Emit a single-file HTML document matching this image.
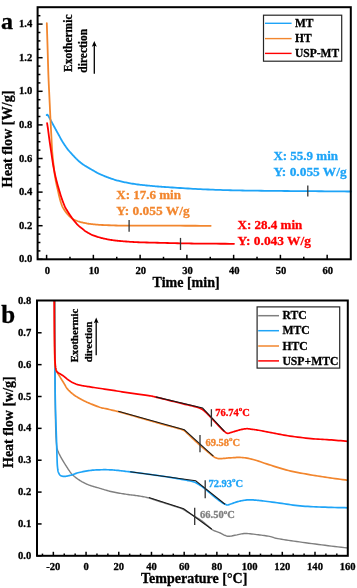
<!DOCTYPE html>
<html><head><meta charset="utf-8"><style>
html,body{margin:0;padding:0;background:#fff;width:357px;height:588px;overflow:hidden;}
svg{display:block;font-family:"Liberation Serif",serif;will-change:transform;}
</style></head><body>
<svg width="357" height="588" viewBox="0 0 357 588">
<path d="M46.70,115.10 L46.80,115.05 L46.89,114.95 L46.97,114.84 L47.06,114.74 L47.15,114.67 L47.27,114.65 L47.42,114.72 L47.60,114.90 L47.82,115.19 L48.08,115.57 L48.37,116.03 L48.67,116.55 L49.00,117.11 L49.33,117.70 L49.67,118.30 L50.00,118.90 L50.34,119.51 L50.69,120.15 L51.05,120.82 L51.41,121.51 L51.78,122.21 L52.16,122.91 L52.53,123.61 L52.90,124.30 L53.27,124.98 L53.64,125.67 L54.02,126.36 L54.39,127.05 L54.77,127.74 L55.15,128.43 L55.52,129.12 L55.90,129.80 L56.27,130.48 L56.65,131.15 L57.02,131.82 L57.39,132.49 L57.77,133.16 L58.14,133.83 L58.52,134.51 L58.90,135.20 L59.28,135.91 L59.67,136.63 L60.06,137.36 L60.45,138.10 L60.84,138.83 L61.23,139.55 L61.62,140.24 L62.00,140.90 L62.38,141.53 L62.76,142.14 L63.13,142.72 L63.51,143.29 L63.88,143.85 L64.25,144.40 L64.63,144.95 L65.00,145.50 L65.36,146.03 L65.70,146.55 L66.04,147.04 L66.38,147.54 L66.73,148.04 L67.11,148.56 L67.53,149.11 L68.00,149.70 L68.53,150.34 L69.11,151.01 L69.73,151.72 L70.38,152.44 L71.04,153.18 L71.70,153.90 L72.36,154.61 L73.00,155.30 L73.62,155.97 L74.25,156.64 L74.88,157.30 L75.50,157.95 L76.12,158.59 L76.75,159.21 L77.38,159.82 L78.00,160.40 L78.62,160.96 L79.25,161.50 L79.88,162.02 L80.50,162.53 L81.12,163.01 L81.75,163.49 L82.38,163.95 L83.00,164.40 L83.62,164.83 L84.25,165.24 L84.88,165.64 L85.50,166.02 L86.12,166.39 L86.75,166.76 L87.38,167.13 L88.00,167.50 L88.62,167.87 L89.25,168.24 L89.88,168.61 L90.50,168.97 L91.12,169.33 L91.75,169.69 L92.38,170.04 L93.00,170.40 L93.61,170.75 L94.20,171.10 L94.79,171.44 L95.38,171.79 L95.98,172.13 L96.61,172.48 L97.28,172.84 L98.00,173.20 L98.77,173.57 L99.59,173.96 L100.43,174.35 L101.31,174.74 L102.21,175.14 L103.13,175.53 L104.06,175.92 L105.00,176.30 L105.96,176.68 L106.95,177.06 L107.97,177.44 L109.00,177.82 L110.03,178.19 L111.05,178.54 L112.04,178.88 L113.00,179.20 L113.92,179.50 L114.80,179.77 L115.65,180.03 L116.50,180.27 L117.35,180.51 L118.20,180.74 L119.08,180.97 L120.00,181.20 L120.94,181.43 L121.88,181.65 L122.84,181.86 L123.81,182.07 L124.81,182.28 L125.84,182.49 L126.90,182.69 L128.00,182.90 L129.15,183.11 L130.36,183.32 L131.60,183.53 L132.88,183.74 L134.16,183.94 L135.45,184.14 L136.74,184.32 L138.00,184.50 L139.25,184.66 L140.50,184.81 L141.75,184.96 L143.00,185.09 L144.25,185.22 L145.50,185.35 L146.75,185.48 L148.00,185.60 L149.25,185.72 L150.50,185.84 L151.75,185.96 L153.00,186.07 L154.25,186.19 L155.50,186.29 L156.75,186.40 L158.00,186.50 L159.18,186.59 L160.27,186.67 L161.31,186.75 L162.38,186.83 L163.52,186.90 L164.80,186.99 L166.27,187.09 L168.00,187.20 L170.02,187.34 L172.30,187.49 L174.77,187.66 L177.38,187.83 L180.06,188.01 L182.77,188.18 L185.43,188.35 L188.00,188.50 L190.50,188.64 L193.00,188.78 L195.50,188.91 L198.00,189.04 L200.50,189.16 L203.00,189.28 L205.50,189.39 L208.00,189.50 L210.50,189.60 L213.00,189.70 L215.50,189.80 L218.00,189.89 L220.50,189.97 L223.00,190.05 L225.50,190.13 L228.00,190.20 L230.45,190.27 L232.84,190.32 L235.19,190.38 L237.56,190.42 L239.99,190.47 L242.51,190.51 L245.17,190.56 L248.00,190.60 L251.05,190.64 L254.30,190.68 L257.70,190.72 L261.19,190.76 L264.71,190.80 L268.23,190.83 L271.67,190.87 L275.00,190.90 L278.22,190.93 L281.39,190.96 L284.52,190.98 L287.62,191.01 L290.71,191.03 L293.80,191.05 L296.89,191.08 L300.00,191.10 L303.12,191.12 L306.23,191.15 L309.34,191.17 L312.45,191.20 L315.57,191.22 L318.69,191.25 L321.84,191.27 L325.00,191.30 L328.19,191.33 L331.39,191.35 L334.62,191.38 L337.85,191.40 L341.09,191.43 L344.33,191.45 L347.57,191.48 L350.80,191.50" fill="none" stroke="#1ea4f7" stroke-width="1.8" stroke-linejoin="round" stroke-linecap="round"/>
<path d="M46.80,23.20 L46.89,25.87 L46.97,28.46 L47.05,31.01 L47.14,33.59 L47.22,36.22 L47.31,38.97 L47.40,41.88 L47.50,45.00 L47.60,48.41 L47.71,52.11 L47.82,56.00 L47.93,59.99 L48.05,63.98 L48.16,67.87 L48.28,71.58 L48.40,75.00 L48.52,78.13 L48.64,81.04 L48.76,83.79 L48.89,86.44 L49.01,89.03 L49.14,91.62 L49.27,94.26 L49.40,97.00 L49.53,99.88 L49.68,102.87 L49.82,105.90 L49.96,108.94 L50.11,111.92 L50.24,114.79 L50.38,117.50 L50.50,120.00 L50.61,122.26 L50.72,124.31 L50.82,126.21 L50.92,128.00 L51.01,129.73 L51.11,131.44 L51.20,133.18 L51.30,135.00 L51.40,136.91 L51.50,138.87 L51.60,140.84 L51.69,142.81 L51.79,144.74 L51.89,146.60 L52.00,148.36 L52.10,150.00 L52.21,151.50 L52.32,152.89 L52.43,154.18 L52.54,155.41 L52.65,156.58 L52.77,157.72 L52.88,158.86 L53.00,160.00 L53.12,161.15 L53.25,162.28 L53.38,163.39 L53.51,164.47 L53.64,165.52 L53.76,166.55 L53.88,167.54 L54.00,168.50 L54.11,169.40 L54.20,170.23 L54.29,171.02 L54.38,171.78 L54.46,172.54 L54.56,173.32 L54.67,174.13 L54.80,175.00 L54.94,175.94 L55.10,176.92 L55.27,177.93 L55.45,178.97 L55.63,180.01 L55.82,181.04 L56.01,182.04 L56.20,183.00 L56.39,183.92 L56.58,184.81 L56.78,185.68 L56.98,186.53 L57.18,187.38 L57.39,188.24 L57.59,189.11 L57.80,190.00 L58.01,190.92 L58.21,191.86 L58.42,192.82 L58.63,193.78 L58.84,194.74 L59.06,195.68 L59.28,196.61 L59.50,197.50 L59.73,198.37 L59.96,199.24 L60.19,200.10 L60.43,200.94 L60.67,201.76 L60.91,202.55 L61.16,203.29 L61.40,204.00 L61.64,204.65 L61.86,205.24 L62.09,205.79 L62.31,206.31 L62.55,206.81 L62.81,207.32 L63.09,207.85 L63.40,208.40 L63.74,208.98 L64.11,209.58 L64.50,210.19 L64.91,210.81 L65.34,211.42 L65.78,212.03 L66.24,212.62 L66.70,213.20 L67.19,213.78 L67.71,214.36 L68.24,214.94 L68.79,215.51 L69.34,216.06 L69.89,216.58 L70.41,217.07 L70.90,217.50 L71.35,217.88 L71.77,218.20 L72.16,218.49 L72.55,218.74 L72.94,218.98 L73.36,219.21 L73.80,219.45 L74.30,219.70 L74.84,219.96 L75.42,220.23 L76.02,220.49 L76.64,220.75 L77.29,221.00 L77.95,221.25 L78.62,221.48 L79.30,221.70 L79.99,221.91 L80.71,222.10 L81.44,222.29 L82.19,222.46 L82.94,222.63 L83.70,222.79 L84.45,222.95 L85.20,223.10 L85.91,223.24 L86.57,223.38 L87.21,223.51 L87.87,223.63 L88.56,223.75 L89.33,223.87 L90.20,223.98 L91.20,224.10 L92.31,224.22 L93.48,224.34 L94.74,224.46 L96.08,224.57 L97.50,224.69 L99.03,224.80 L100.66,224.90 L102.40,225.00 L104.35,225.09 L106.55,225.19 L108.91,225.27 L111.34,225.36 L113.75,225.43 L116.05,225.50 L118.17,225.56 L120.00,225.60 L121.32,225.63 L122.10,225.64 L122.60,225.64 L123.04,225.63 L123.66,225.62 L124.70,225.61 L126.40,225.60 L129.00,225.60 L132.60,225.61 L137.01,225.62 L142.04,225.63 L147.52,225.64 L153.24,225.66 L159.02,225.67 L164.67,225.69 L170.00,225.70 L175.10,225.71 L180.20,225.72 L185.28,225.74 L190.37,225.75 L195.45,225.76 L200.53,225.78 L205.61,225.79 L210.70,225.80" fill="none" stroke="#f2862e" stroke-width="1.8" stroke-linejoin="round" stroke-linecap="round"/>
<path d="M47.10,123.10 L47.21,123.83 L47.33,124.57 L47.44,125.29 L47.56,126.03 L47.67,126.76 L47.78,127.50 L47.89,128.24 L48.00,129.00 L48.10,129.76 L48.20,130.53 L48.30,131.29 L48.39,132.07 L48.49,132.85 L48.59,133.65 L48.69,134.47 L48.80,135.30 L48.92,136.16 L49.04,137.05 L49.16,137.95 L49.29,138.87 L49.42,139.79 L49.55,140.71 L49.67,141.61 L49.80,142.50 L49.92,143.37 L50.05,144.23 L50.17,145.08 L50.30,145.93 L50.42,146.77 L50.55,147.62 L50.67,148.46 L50.80,149.30 L50.92,150.14 L51.05,150.98 L51.17,151.82 L51.30,152.65 L51.42,153.48 L51.55,154.32 L51.67,155.16 L51.80,156.00 L51.92,156.85 L52.05,157.69 L52.17,158.54 L52.29,159.39 L52.41,160.25 L52.54,161.10 L52.67,161.95 L52.80,162.80 L52.94,163.65 L53.08,164.51 L53.23,165.38 L53.38,166.24 L53.53,167.09 L53.69,167.94 L53.84,168.78 L54.00,169.60 L54.15,170.40 L54.31,171.17 L54.46,171.92 L54.61,172.67 L54.77,173.43 L54.94,174.19 L55.11,174.98 L55.30,175.80 L55.50,176.65 L55.71,177.53 L55.93,178.44 L56.16,179.35 L56.39,180.27 L56.62,181.19 L56.86,182.10 L57.10,183.00 L57.34,183.88 L57.58,184.75 L57.82,185.62 L58.07,186.48 L58.32,187.35 L58.57,188.22 L58.83,189.10 L59.10,190.00 L59.37,190.92 L59.65,191.85 L59.93,192.80 L60.21,193.75 L60.50,194.70 L60.80,195.65 L61.10,196.58 L61.40,197.50 L61.72,198.42 L62.05,199.35 L62.38,200.29 L62.72,201.21 L63.06,202.11 L63.39,202.97 L63.71,203.77 L64.00,204.50 L64.26,205.13 L64.47,205.67 L64.66,206.14 L64.85,206.58 L65.05,207.01 L65.28,207.47 L65.56,207.99 L65.90,208.60 L66.31,209.31 L66.79,210.09 L67.31,210.93 L67.86,211.79 L68.42,212.67 L69.00,213.55 L69.56,214.40 L70.10,215.20 L70.62,215.97 L71.15,216.73 L71.67,217.49 L72.20,218.22 L72.72,218.95 L73.25,219.65 L73.77,220.34 L74.30,221.00 L74.83,221.64 L75.35,222.26 L75.88,222.87 L76.40,223.45 L76.92,224.02 L77.45,224.56 L77.97,225.09 L78.50,225.60 L79.03,226.09 L79.58,226.56 L80.13,227.01 L80.68,227.44 L81.22,227.86 L81.74,228.26 L82.24,228.64 L82.70,229.00 L83.11,229.33 L83.45,229.63 L83.76,229.90 L84.06,230.16 L84.37,230.42 L84.72,230.69 L85.12,230.98 L85.60,231.30 L86.17,231.66 L86.81,232.06 L87.50,232.48 L88.23,232.91 L88.98,233.34 L89.74,233.76 L90.48,234.15 L91.20,234.50 L91.90,234.82 L92.60,235.11 L93.30,235.39 L94.00,235.65 L94.70,235.90 L95.40,236.14 L96.10,236.37 L96.80,236.60 L97.50,236.83 L98.20,237.04 L98.90,237.25 L99.60,237.46 L100.30,237.65 L101.00,237.84 L101.70,238.02 L102.40,238.20 L103.10,238.37 L103.80,238.54 L104.50,238.69 L105.20,238.84 L105.90,238.99 L106.60,239.13 L107.30,239.27 L108.00,239.40 L108.69,239.53 L109.38,239.65 L110.06,239.77 L110.75,239.88 L111.44,239.99 L112.14,240.10 L112.86,240.20 L113.60,240.30 L114.34,240.40 L115.06,240.49 L115.78,240.57 L116.52,240.66 L117.30,240.74 L118.13,240.82 L119.02,240.91 L120.00,241.00 L121.08,241.10 L122.25,241.20 L123.49,241.31 L124.78,241.41 L126.09,241.52 L127.42,241.62 L128.73,241.71 L130.00,241.80 L131.18,241.88 L132.27,241.95 L133.31,242.01 L134.38,242.07 L135.52,242.13 L136.80,242.18 L138.27,242.24 L140.00,242.30 L142.02,242.36 L144.30,242.43 L146.77,242.49 L149.38,242.55 L152.06,242.61 L154.77,242.68 L157.43,242.74 L160.00,242.80 L162.50,242.86 L165.00,242.93 L167.50,243.00 L170.00,243.06 L172.50,243.13 L175.00,243.19 L177.50,243.25 L180.00,243.30 L182.40,243.35 L184.67,243.39 L186.88,243.43 L189.12,243.47 L191.47,243.50 L194.02,243.54 L196.83,243.57 L200.00,243.60 L203.58,243.63 L207.52,243.66 L211.72,243.68 L216.12,243.71 L220.63,243.73 L225.17,243.75 L229.65,243.78 L234.00,243.80" fill="none" stroke="#ff0000" stroke-width="1.8" stroke-linejoin="round" stroke-linecap="round"/>
<line x1="307.8" y1="185.6" x2="307.8" y2="196.5" stroke="#333333" stroke-width="1.3"/>
<line x1="129.1" y1="220.0" x2="129.1" y2="231.8" stroke="#333333" stroke-width="1.3"/>
<line x1="180.5" y1="237.9" x2="180.5" y2="250.0" stroke="#333333" stroke-width="1.3"/>
<rect x="37.6" y="7.2" width="313.2" height="252.10000000000002" fill="none" stroke="#000" stroke-width="2.0"/>
<line x1="37.6" y1="259.30" x2="42.6" y2="259.30" stroke="#000" stroke-width="1.5"/>
<text stroke="#000" stroke-width="0.3" x="32.3" y="262.30" text-anchor="end" font-size="10.6" font-family="Liberation Serif" font-weight="bold">0.0</text>
<line x1="37.6" y1="250.90" x2="40.4" y2="250.90" stroke="#000" stroke-width="1.5"/>
<line x1="37.6" y1="242.50" x2="40.4" y2="242.50" stroke="#000" stroke-width="1.5"/>
<line x1="37.6" y1="234.10" x2="40.4" y2="234.10" stroke="#000" stroke-width="1.5"/>
<line x1="37.6" y1="225.70" x2="42.6" y2="225.70" stroke="#000" stroke-width="1.5"/>
<text stroke="#000" stroke-width="0.3" x="32.3" y="228.70" text-anchor="end" font-size="10.6" font-family="Liberation Serif" font-weight="bold">0.2</text>
<line x1="37.6" y1="217.30" x2="40.4" y2="217.30" stroke="#000" stroke-width="1.5"/>
<line x1="37.6" y1="208.90" x2="40.4" y2="208.90" stroke="#000" stroke-width="1.5"/>
<line x1="37.6" y1="200.50" x2="40.4" y2="200.50" stroke="#000" stroke-width="1.5"/>
<line x1="37.6" y1="192.10" x2="42.6" y2="192.10" stroke="#000" stroke-width="1.5"/>
<text stroke="#000" stroke-width="0.3" x="32.3" y="195.10" text-anchor="end" font-size="10.6" font-family="Liberation Serif" font-weight="bold">0.4</text>
<line x1="37.6" y1="183.70" x2="40.4" y2="183.70" stroke="#000" stroke-width="1.5"/>
<line x1="37.6" y1="175.30" x2="40.4" y2="175.30" stroke="#000" stroke-width="1.5"/>
<line x1="37.6" y1="166.90" x2="40.4" y2="166.90" stroke="#000" stroke-width="1.5"/>
<line x1="37.6" y1="158.50" x2="42.6" y2="158.50" stroke="#000" stroke-width="1.5"/>
<text stroke="#000" stroke-width="0.3" x="32.3" y="161.50" text-anchor="end" font-size="10.6" font-family="Liberation Serif" font-weight="bold">0.6</text>
<line x1="37.6" y1="150.10" x2="40.4" y2="150.10" stroke="#000" stroke-width="1.5"/>
<line x1="37.6" y1="141.70" x2="40.4" y2="141.70" stroke="#000" stroke-width="1.5"/>
<line x1="37.6" y1="133.30" x2="40.4" y2="133.30" stroke="#000" stroke-width="1.5"/>
<line x1="37.6" y1="124.90" x2="42.6" y2="124.90" stroke="#000" stroke-width="1.5"/>
<text stroke="#000" stroke-width="0.3" x="32.3" y="127.90" text-anchor="end" font-size="10.6" font-family="Liberation Serif" font-weight="bold">0.8</text>
<line x1="37.6" y1="116.50" x2="40.4" y2="116.50" stroke="#000" stroke-width="1.5"/>
<line x1="37.6" y1="108.10" x2="40.4" y2="108.10" stroke="#000" stroke-width="1.5"/>
<line x1="37.6" y1="99.70" x2="40.4" y2="99.70" stroke="#000" stroke-width="1.5"/>
<line x1="37.6" y1="91.30" x2="42.6" y2="91.30" stroke="#000" stroke-width="1.5"/>
<text stroke="#000" stroke-width="0.3" x="32.3" y="94.30" text-anchor="end" font-size="10.6" font-family="Liberation Serif" font-weight="bold">1.0</text>
<line x1="37.6" y1="82.90" x2="40.4" y2="82.90" stroke="#000" stroke-width="1.5"/>
<line x1="37.6" y1="74.50" x2="40.4" y2="74.50" stroke="#000" stroke-width="1.5"/>
<line x1="37.6" y1="66.10" x2="40.4" y2="66.10" stroke="#000" stroke-width="1.5"/>
<line x1="37.6" y1="57.70" x2="42.6" y2="57.70" stroke="#000" stroke-width="1.5"/>
<text stroke="#000" stroke-width="0.3" x="32.3" y="60.70" text-anchor="end" font-size="10.6" font-family="Liberation Serif" font-weight="bold">1.2</text>
<line x1="37.6" y1="49.30" x2="40.4" y2="49.30" stroke="#000" stroke-width="1.5"/>
<line x1="37.6" y1="40.90" x2="40.4" y2="40.90" stroke="#000" stroke-width="1.5"/>
<line x1="37.6" y1="32.50" x2="40.4" y2="32.50" stroke="#000" stroke-width="1.5"/>
<line x1="37.6" y1="24.10" x2="42.6" y2="24.10" stroke="#000" stroke-width="1.5"/>
<text stroke="#000" stroke-width="0.3" x="32.3" y="27.10" text-anchor="end" font-size="10.6" font-family="Liberation Serif" font-weight="bold">1.4</text>
<line x1="37.6" y1="15.70" x2="40.4" y2="15.70" stroke="#000" stroke-width="1.5"/>
<line x1="46.60" y1="259.3" x2="46.60" y2="254.8" stroke="#000" stroke-width="1.5"/>
<text stroke="#000" stroke-width="0.3" x="47.30" y="273.6" text-anchor="middle" font-size="10.6" font-family="Liberation Serif" font-weight="bold">0</text>
<line x1="69.98" y1="259.3" x2="69.98" y2="256.8" stroke="#000" stroke-width="1.5"/>
<line x1="93.36" y1="259.3" x2="93.36" y2="254.8" stroke="#000" stroke-width="1.5"/>
<text stroke="#000" stroke-width="0.3" x="94.06" y="273.6" text-anchor="middle" font-size="10.6" font-family="Liberation Serif" font-weight="bold">10</text>
<line x1="116.74" y1="259.3" x2="116.74" y2="256.8" stroke="#000" stroke-width="1.5"/>
<line x1="140.12" y1="259.3" x2="140.12" y2="254.8" stroke="#000" stroke-width="1.5"/>
<text stroke="#000" stroke-width="0.3" x="140.82" y="273.6" text-anchor="middle" font-size="10.6" font-family="Liberation Serif" font-weight="bold">20</text>
<line x1="163.50" y1="259.3" x2="163.50" y2="256.8" stroke="#000" stroke-width="1.5"/>
<line x1="186.88" y1="259.3" x2="186.88" y2="254.8" stroke="#000" stroke-width="1.5"/>
<text stroke="#000" stroke-width="0.3" x="187.58" y="273.6" text-anchor="middle" font-size="10.6" font-family="Liberation Serif" font-weight="bold">30</text>
<line x1="210.26" y1="259.3" x2="210.26" y2="256.8" stroke="#000" stroke-width="1.5"/>
<line x1="233.64" y1="259.3" x2="233.64" y2="254.8" stroke="#000" stroke-width="1.5"/>
<text stroke="#000" stroke-width="0.3" x="234.34" y="273.6" text-anchor="middle" font-size="10.6" font-family="Liberation Serif" font-weight="bold">40</text>
<line x1="257.02" y1="259.3" x2="257.02" y2="256.8" stroke="#000" stroke-width="1.5"/>
<line x1="280.40" y1="259.3" x2="280.40" y2="254.8" stroke="#000" stroke-width="1.5"/>
<text stroke="#000" stroke-width="0.3" x="281.10" y="273.6" text-anchor="middle" font-size="10.6" font-family="Liberation Serif" font-weight="bold">50</text>
<line x1="303.78" y1="259.3" x2="303.78" y2="256.8" stroke="#000" stroke-width="1.5"/>
<line x1="327.16" y1="259.3" x2="327.16" y2="254.8" stroke="#000" stroke-width="1.5"/>
<text stroke="#000" stroke-width="0.3" x="327.86" y="273.6" text-anchor="middle" font-size="10.6" font-family="Liberation Serif" font-weight="bold">60</text>
<text stroke="#000" stroke-width="0.3" x="152.6" y="286.8" font-size="14" font-family="Liberation Serif" font-weight="bold">Time [min]</text>
<text stroke="#000" stroke-width="0.3" transform="translate(12.4,187.4) rotate(-90)" x="0" y="0" font-size="14.2" font-family="Liberation Serif" font-weight="bold">Heat flow [W/g]</text>
<text stroke="#000" stroke-width="0.3" x="1.1" y="29.3" font-size="24" font-family="Liberation Serif" font-weight="bold">a</text>
<text stroke="#000" stroke-width="0.3" transform="translate(71.8,72) rotate(-90)" font-size="11.5" font-family="Liberation Serif" font-weight="bold">Exothermic</text>
<text stroke="#000" stroke-width="0.3" transform="translate(86.5,72.7) rotate(-90)" font-size="11.5" font-family="Liberation Serif" font-weight="bold">direction</text>
<line x1="94.3" y1="73.7" x2="94.3" y2="45" stroke="#000" stroke-width="1.3"/>
<path d="M94.3,41 L96.8,46.8 L94.3,45.6 L91.8,46.8 Z" fill="#000"/>
<rect x="263.5" y="15.2" width="78.2" height="46" fill="#fff" stroke="#262626" stroke-width="1.2"/>
<line x1="265" y1="23.3" x2="291.6" y2="23.3" stroke="#1ea4f7" stroke-width="1.4"/>
<text stroke="#000" stroke-width="0.3" x="295.0" y="27.10" font-size="11.5" font-family="Liberation Serif" font-weight="bold">MT</text>
<line x1="265" y1="38.6" x2="291.6" y2="38.6" stroke="#f2862e" stroke-width="1.4"/>
<text stroke="#000" stroke-width="0.3" x="295.0" y="42.40" font-size="11.5" font-family="Liberation Serif" font-weight="bold">HT</text>
<line x1="265" y1="53.4" x2="291.6" y2="53.4" stroke="#ff0000" stroke-width="1.4"/>
<text stroke="#000" stroke-width="0.3" x="295.0" y="57.20" font-size="11.5" font-family="Liberation Serif" font-weight="bold">USP-MT</text>
<text stroke="#1ea4f7" stroke-width="0.3" x="273.4" y="160.2" font-size="13" fill="#1ea4f7" font-family="Liberation Serif" font-weight="bold">X: 55.9 min</text>
<text stroke="#1ea4f7" stroke-width="0.3" x="273.4" y="175.7" font-size="13.4" fill="#1ea4f7" font-family="Liberation Serif" font-weight="bold">Y: 0.055 W/g</text>
<text stroke="#f2862e" stroke-width="0.3" x="116.3" y="199.4" font-size="13" fill="#f2862e" font-family="Liberation Serif" font-weight="bold">X: 17.6 min</text>
<text stroke="#f2862e" stroke-width="0.3" x="116.3" y="215.2" font-size="13.4" fill="#f2862e" font-family="Liberation Serif" font-weight="bold">Y: 0.055 W/g</text>
<text stroke="#ff0000" stroke-width="0.3" x="237.6" y="228.9" font-size="13" fill="#ff0000" font-family="Liberation Serif" font-weight="bold">X: 28.4 min</text>
<text stroke="#ff0000" stroke-width="0.3" x="237.6" y="244.7" font-size="13.4" fill="#ff0000" font-family="Liberation Serif" font-weight="bold">Y: 0.043 W/g</text>
<defs><clipPath id="cb"><rect x="37" y="300.9" width="310.8" height="254.9"/></clipPath></defs>
<g clip-path="url(#cb)">
<path d="M54.90,300.00 L54.92,310.27 L54.95,320.94 L54.97,331.76 L54.99,342.50 L55.01,352.93 L55.04,362.81 L55.07,371.91 L55.10,380.00 L55.14,387.05 L55.18,393.28 L55.22,398.81 L55.27,403.75 L55.32,408.22 L55.37,412.34 L55.43,416.23 L55.50,420.00 L55.57,423.53 L55.64,426.66 L55.72,429.45 L55.81,431.94 L55.90,434.18 L55.99,436.24 L56.09,438.16 L56.20,440.00 L56.31,441.67 L56.41,443.08 L56.51,444.28 L56.62,445.33 L56.75,446.28 L56.90,447.17 L57.08,448.06 L57.30,449.00 L57.56,449.94 L57.84,450.81 L58.15,451.63 L58.49,452.42 L58.85,453.21 L59.24,454.00 L59.66,454.83 L60.10,455.70 L60.58,456.63 L61.11,457.60 L61.67,458.59 L62.25,459.59 L62.85,460.60 L63.44,461.59 L64.03,462.57 L64.60,463.50 L65.16,464.41 L65.73,465.33 L66.30,466.23 L66.87,467.11 L67.43,467.97 L67.97,468.79 L68.50,469.57 L69.00,470.30 L69.46,470.96 L69.87,471.57 L70.25,472.12 L70.63,472.64 L71.01,473.15 L71.42,473.65 L71.88,474.16 L72.40,474.70 L72.99,475.27 L73.65,475.84 L74.34,476.43 L75.06,477.01 L75.80,477.59 L76.55,478.15 L77.28,478.69 L78.00,479.20 L78.69,479.68 L79.38,480.14 L80.06,480.58 L80.75,481.01 L81.44,481.42 L82.14,481.82 L82.86,482.21 L83.60,482.60 L84.34,482.98 L85.06,483.34 L85.79,483.69 L86.54,484.03 L87.32,484.37 L88.14,484.71 L89.03,485.05 L90.00,485.40 L91.06,485.76 L92.21,486.12 L93.43,486.48 L94.69,486.84 L95.98,487.21 L97.27,487.57 L98.55,487.94 L99.80,488.30 L101.02,488.67 L102.25,489.05 L103.47,489.43 L104.70,489.81 L105.92,490.18 L107.15,490.54 L108.38,490.88 L109.60,491.20 L110.82,491.50 L112.05,491.78 L113.27,492.04 L114.50,492.29 L115.72,492.53 L116.95,492.76 L118.17,492.98 L119.40,493.20 L120.62,493.41 L121.85,493.61 L123.08,493.81 L124.30,493.99 L125.53,494.17 L126.75,494.35 L127.98,494.53 L129.20,494.70 L130.43,494.87 L131.66,495.03 L132.89,495.18 L134.12,495.32 L135.35,495.48 L136.58,495.64 L137.79,495.81 L139.00,496.00 L140.14,496.18 L141.20,496.35 L142.23,496.51 L143.26,496.69 L144.35,496.90 L145.54,497.16 L146.87,497.49 L148.40,497.90 L150.18,498.42 L152.20,499.04 L154.38,499.74 L156.65,500.49 L158.94,501.25 L161.18,501.99 L163.29,502.68 L165.20,503.30 L166.95,503.85 L168.64,504.38 L170.25,504.87 L171.77,505.34 L173.22,505.79 L174.57,506.21 L175.84,506.62 L177.00,507.00 L178.03,507.34 L178.91,507.64 L179.67,507.90 L180.36,508.15 L181.00,508.40 L181.64,508.66 L182.29,508.96 L183.00,509.30 L183.72,509.68 L184.38,510.06 L185.03,510.46 L185.69,510.88 L186.38,511.34 L187.15,511.84 L188.01,512.39 L189.00,513.00 L190.17,513.70 L191.52,514.49 L192.98,515.35 L194.50,516.24 L196.02,517.14 L197.48,518.02 L198.83,518.85 L200.00,519.60 L200.99,520.28 L201.86,520.90 L202.62,521.49 L203.33,522.05 L203.98,522.60 L204.63,523.15 L205.29,523.71 L206.00,524.30 L206.75,524.93 L207.52,525.61 L208.30,526.30 L209.07,526.99 L209.82,527.65 L210.54,528.27 L211.20,528.83 L211.80,529.30 L212.31,529.67 L212.74,529.95 L213.10,530.17 L213.44,530.34 L213.77,530.49 L214.12,530.63 L214.52,530.80 L215.00,531.00 L215.54,531.23 L216.11,531.45 L216.70,531.68 L217.33,531.91 L217.99,532.15 L218.69,532.41 L219.43,532.69 L220.20,533.00 L221.02,533.37 L221.90,533.82 L222.81,534.30 L223.76,534.79 L224.74,535.26 L225.72,535.67 L226.71,536.00 L227.70,536.20 L228.68,536.27 L229.67,536.24 L230.67,536.12 L231.67,535.95 L232.70,535.74 L233.74,535.51 L234.81,535.29 L235.90,535.10 L237.00,534.90 L238.10,534.67 L239.22,534.41 L240.36,534.15 L241.53,533.91 L242.76,533.71 L244.04,533.56 L245.40,533.50 L246.86,533.52 L248.43,533.61 L250.06,533.76 L251.74,533.95 L253.44,534.16 L255.11,534.39 L256.75,534.60 L258.30,534.80 L259.80,534.98 L261.29,535.16 L262.76,535.35 L264.19,535.54 L265.59,535.74 L266.95,535.95 L268.26,536.17 L269.50,536.40 L270.60,536.64 L271.51,536.89 L272.32,537.15 L273.12,537.42 L273.97,537.70 L274.97,537.99 L276.18,538.29 L277.70,538.60 L279.51,538.93 L281.52,539.26 L283.73,539.61 L286.09,539.97 L288.58,540.35 L291.18,540.72 L293.86,541.11 L296.60,541.50 L299.44,541.90 L302.44,542.32 L305.55,542.75 L308.76,543.19 L312.01,543.62 L315.30,544.06 L318.57,544.49 L321.80,544.90 L325.01,545.30 L328.24,545.70 L331.49,546.08 L334.75,546.47 L338.01,546.85 L341.28,547.23 L344.54,547.61 L347.80,548.00" fill="none" stroke="#7f7f7f" stroke-width="1.4" stroke-linejoin="round" stroke-linecap="round"/>
<path d="M54.60,300.00 L54.64,307.64 L54.67,315.47 L54.71,323.38 L54.74,331.25 L54.78,338.96 L54.82,346.41 L54.86,353.46 L54.90,360.00 L54.94,365.96 L54.97,371.41 L55.01,376.46 L55.04,381.25 L55.09,385.88 L55.14,390.47 L55.21,395.14 L55.30,400.00 L55.42,405.14 L55.56,410.47 L55.72,415.88 L55.89,421.25 L56.06,426.46 L56.22,431.41 L56.37,435.96 L56.50,440.00 L56.61,443.55 L56.70,446.71 L56.78,449.54 L56.85,452.06 L56.92,454.33 L56.98,456.38 L57.04,458.26 L57.10,460.00 L57.16,461.51 L57.20,462.71 L57.25,463.67 L57.29,464.44 L57.33,465.09 L57.38,465.70 L57.43,466.31 L57.50,467.00 L57.57,467.73 L57.65,468.44 L57.73,469.10 L57.81,469.74 L57.91,470.35 L58.02,470.93 L58.15,471.48 L58.30,472.00 L58.48,472.49 L58.68,472.96 L58.90,473.39 L59.13,473.80 L59.37,474.17 L59.62,474.52 L59.86,474.83 L60.10,475.10 L60.33,475.33 L60.55,475.51 L60.77,475.66 L61.00,475.77 L61.23,475.87 L61.47,475.95 L61.73,476.02 L62.00,476.10 L62.29,476.18 L62.58,476.24 L62.89,476.30 L63.21,476.34 L63.54,476.38 L63.88,476.40 L64.23,476.41 L64.60,476.40 L64.98,476.38 L65.37,476.35 L65.77,476.30 L66.19,476.24 L66.62,476.17 L67.06,476.09 L67.52,476.00 L68.00,475.90 L68.49,475.79 L68.98,475.67 L69.48,475.55 L69.99,475.41 L70.54,475.25 L71.11,475.09 L71.73,474.90 L72.40,474.70 L73.10,474.47 L73.81,474.22 L74.56,473.94 L75.34,473.65 L76.18,473.35 L77.08,473.06 L78.05,472.77 L79.10,472.50 L80.27,472.23 L81.56,471.96 L82.93,471.68 L84.36,471.41 L85.81,471.15 L87.25,470.90 L88.66,470.69 L90.00,470.50 L91.28,470.35 L92.53,470.22 L93.76,470.11 L94.97,470.02 L96.17,469.95 L97.38,469.90 L98.58,469.85 L99.80,469.80 L101.02,469.76 L102.25,469.73 L103.47,469.71 L104.70,469.71 L105.92,469.71 L107.15,469.73 L108.38,469.76 L109.60,469.80 L110.82,469.86 L112.03,469.93 L113.23,470.02 L114.44,470.12 L115.65,470.23 L116.88,470.35 L118.13,470.47 L119.40,470.60 L120.64,470.73 L121.82,470.86 L122.98,471.00 L124.18,471.14 L125.45,471.30 L126.84,471.48 L128.41,471.68 L130.20,471.90 L132.25,472.15 L134.55,472.44 L137.02,472.74 L139.62,473.06 L142.27,473.40 L144.93,473.73 L147.53,474.07 L150.00,474.40 L152.39,474.73 L154.76,475.06 L157.12,475.39 L159.46,475.73 L161.77,476.06 L164.05,476.41 L166.29,476.75 L168.50,477.10 L170.71,477.46 L172.94,477.83 L175.16,478.21 L177.34,478.59 L179.45,478.97 L181.45,479.33 L183.31,479.68 L185.00,480.00 L186.51,480.29 L187.87,480.55 L189.10,480.79 L190.22,481.02 L191.25,481.25 L192.21,481.48 L193.12,481.73 L194.00,482.00 L194.81,482.28 L195.51,482.57 L196.12,482.86 L196.68,483.16 L197.22,483.47 L197.77,483.82 L198.35,484.19 L199.00,484.60 L199.68,485.03 L200.35,485.45 L201.03,485.89 L201.72,486.37 L202.46,486.89 L203.26,487.48 L204.13,488.14 L205.10,488.90 L206.20,489.80 L207.44,490.85 L208.78,492.00 L210.16,493.21 L211.55,494.42 L212.90,495.58 L214.16,496.66 L215.30,497.60 L216.33,498.43 L217.31,499.19 L218.23,499.90 L219.09,500.54 L219.90,501.14 L220.66,501.68 L221.36,502.16 L222.00,502.60 L222.57,502.97 L223.05,503.26 L223.47,503.48 L223.84,503.66 L224.17,503.81 L224.48,503.94 L224.78,504.06 L225.10,504.20 L225.41,504.35 L225.68,504.49 L225.93,504.62 L226.17,504.74 L226.41,504.85 L226.65,504.92 L226.91,504.98 L227.20,505.00 L227.49,505.00 L227.75,504.97 L228.02,504.92 L228.30,504.85 L228.62,504.75 L229.00,504.63 L229.45,504.48 L230.00,504.30 L230.67,504.07 L231.46,503.80 L232.32,503.48 L233.24,503.14 L234.19,502.80 L235.14,502.47 L236.05,502.16 L236.90,501.90 L237.70,501.67 L238.48,501.46 L239.25,501.27 L240.00,501.09 L240.75,500.93 L241.49,500.78 L242.24,500.63 L243.00,500.50 L243.76,500.37 L244.51,500.25 L245.25,500.14 L246.00,500.04 L246.75,499.95 L247.52,499.88 L248.30,499.83 L249.10,499.80 L249.92,499.79 L250.75,499.81 L251.59,499.85 L252.45,499.91 L253.32,499.97 L254.20,500.05 L255.09,500.12 L256.00,500.20 L256.85,500.27 L257.62,500.33 L258.37,500.40 L259.14,500.47 L260.01,500.57 L261.02,500.68 L262.23,500.82 L263.70,501.00 L265.47,501.22 L267.51,501.49 L269.76,501.78 L272.14,502.09 L274.61,502.42 L277.10,502.76 L279.55,503.08 L281.90,503.40 L284.15,503.72 L286.36,504.05 L288.56,504.39 L290.77,504.73 L293.00,505.05 L295.29,505.36 L297.65,505.65 L300.10,505.90 L302.63,506.12 L305.22,506.30 L307.87,506.47 L310.57,506.61 L313.34,506.74 L316.16,506.87 L319.05,506.98 L322.00,507.10 L325.04,507.21 L328.18,507.31 L331.39,507.40 L334.66,507.48 L337.95,507.56 L341.26,507.64 L344.55,507.72 L347.80,507.80" fill="none" stroke="#1ea4f7" stroke-width="1.7" stroke-linejoin="round" stroke-linecap="round"/>
<path d="M54.50,300.00 L54.51,306.50 L54.52,313.34 L54.52,320.33 L54.53,327.25 L54.54,333.89 L54.55,340.03 L54.57,345.47 L54.60,350.00 L54.63,353.53 L54.67,356.23 L54.71,358.26 L54.75,359.78 L54.80,360.95 L54.86,361.94 L54.92,362.90 L55.00,364.00 L55.09,365.11 L55.18,366.03 L55.28,366.79 L55.39,367.44 L55.50,367.99 L55.63,368.50 L55.76,368.99 L55.90,369.50 L56.04,369.98 L56.17,370.36 L56.30,370.69 L56.44,370.99 L56.61,371.29 L56.80,371.63 L57.03,372.02 L57.30,372.50 L57.63,373.08 L58.01,373.72 L58.43,374.42 L58.88,375.16 L59.34,375.91 L59.81,376.66 L60.27,377.40 L60.70,378.10 L61.12,378.78 L61.53,379.44 L61.94,380.10 L62.35,380.76 L62.76,381.41 L63.17,382.07 L63.58,382.73 L64.00,383.40 L64.41,384.08 L64.79,384.77 L65.17,385.46 L65.56,386.15 L65.96,386.84 L66.39,387.53 L66.87,388.22 L67.40,388.90 L67.99,389.58 L68.65,390.28 L69.34,390.97 L70.06,391.66 L70.80,392.34 L71.55,392.99 L72.28,393.62 L73.00,394.20 L73.70,394.74 L74.40,395.25 L75.10,395.74 L75.80,396.19 L76.50,396.63 L77.20,397.06 L77.90,397.48 L78.60,397.90 L79.30,398.31 L80.00,398.71 L80.69,399.09 L81.39,399.47 L82.09,399.84 L82.79,400.19 L83.49,400.55 L84.20,400.90 L84.89,401.24 L85.55,401.55 L86.19,401.86 L86.85,402.16 L87.54,402.46 L88.28,402.78 L89.09,403.13 L90.00,403.50 L91.03,403.92 L92.16,404.39 L93.37,404.88 L94.64,405.39 L95.92,405.89 L97.20,406.37 L98.43,406.81 L99.60,407.20 L100.69,407.53 L101.74,407.81 L102.75,408.05 L103.74,408.27 L104.75,408.49 L105.78,408.70 L106.86,408.94 L108.00,409.20 L109.21,409.48 L110.45,409.77 L111.74,410.07 L113.06,410.38 L114.40,410.69 L115.76,411.01 L117.13,411.35 L118.50,411.70 L119.89,412.06 L121.29,412.44 L122.72,412.84 L124.16,413.24 L125.61,413.65 L127.07,414.06 L128.53,414.48 L130.00,414.90 L131.49,415.33 L133.01,415.77 L134.55,416.22 L136.09,416.68 L137.62,417.13 L139.13,417.57 L140.59,417.99 L142.00,418.40 L143.34,418.78 L144.61,419.14 L145.84,419.48 L147.04,419.81 L148.24,420.14 L149.46,420.48 L150.70,420.83 L152.00,421.20 L153.35,421.59 L154.75,422.00 L156.17,422.42 L157.61,422.85 L159.05,423.28 L160.49,423.70 L161.91,424.11 L163.30,424.50 L164.68,424.87 L166.06,425.24 L167.43,425.59 L168.79,425.94 L170.14,426.28 L171.46,426.62 L172.75,426.96 L174.00,427.30 L175.24,427.64 L176.49,427.98 L177.72,428.31 L178.92,428.64 L180.07,428.97 L181.14,429.31 L182.13,429.65 L183.00,430.00 L183.73,430.35 L184.33,430.69 L184.82,431.02 L185.25,431.37 L185.65,431.73 L186.05,432.12 L186.49,432.54 L187.00,433.00 L187.56,433.50 L188.13,434.03 L188.71,434.59 L189.31,435.18 L189.93,435.79 L190.59,436.43 L191.27,437.10 L192.00,437.80 L192.78,438.54 L193.61,439.34 L194.48,440.17 L195.38,441.02 L196.29,441.89 L197.20,442.75 L198.11,443.59 L199.00,444.40 L199.87,445.18 L200.74,445.94 L201.61,446.69 L202.47,447.44 L203.35,448.18 L204.22,448.91 L205.11,449.65 L206.00,450.40 L206.94,451.18 L207.93,452.01 L208.96,452.85 L209.98,453.68 L210.96,454.48 L211.88,455.22 L212.70,455.87 L213.40,456.40 L213.95,456.81 L214.37,457.11 L214.70,457.32 L214.96,457.47 L215.19,457.59 L215.42,457.68 L215.68,457.78 L216.00,457.90 L216.36,458.04 L216.72,458.18 L217.09,458.30 L217.46,458.41 L217.86,458.51 L218.27,458.59 L218.72,458.66 L219.20,458.70 L219.72,458.72 L220.27,458.71 L220.85,458.68 L221.45,458.63 L222.07,458.58 L222.71,458.51 L223.35,458.45 L224.00,458.40 L224.62,458.35 L225.20,458.29 L225.77,458.22 L226.36,458.16 L227.01,458.09 L227.75,458.02 L228.60,457.96 L229.60,457.90 L230.78,457.83 L232.12,457.74 L233.58,457.64 L235.12,457.54 L236.71,457.47 L238.31,457.43 L239.89,457.43 L241.40,457.50 L242.84,457.61 L244.24,457.76 L245.62,457.94 L247.01,458.16 L248.42,458.42 L249.90,458.73 L251.45,459.09 L253.10,459.50 L254.84,459.98 L256.65,460.54 L258.52,461.15 L260.46,461.81 L262.45,462.49 L264.51,463.20 L266.62,463.90 L268.80,464.60 L271.06,465.31 L273.43,466.07 L275.86,466.84 L278.36,467.62 L280.88,468.40 L283.41,469.15 L285.92,469.85 L288.40,470.50 L290.85,471.09 L293.30,471.63 L295.75,472.14 L298.20,472.62 L300.65,473.08 L303.10,473.53 L305.55,473.96 L308.00,474.40 L310.45,474.83 L312.89,475.24 L315.32,475.63 L317.76,476.02 L320.21,476.39 L322.66,476.76 L325.12,477.13 L327.60,477.50 L330.10,477.86 L332.61,478.22 L335.13,478.57 L337.66,478.92 L340.20,479.26 L342.74,479.61 L345.27,479.95 L347.80,480.30" fill="none" stroke="#f2862e" stroke-width="1.7" stroke-linejoin="round" stroke-linecap="round"/>
<path d="M54.20,300.00 L54.22,303.79 L54.25,307.63 L54.27,311.50 L54.29,315.35 L54.31,319.16 L54.34,322.89 L54.37,326.52 L54.40,330.00 L54.44,333.42 L54.48,336.83 L54.53,340.18 L54.58,343.44 L54.63,346.54 L54.69,349.43 L54.74,352.07 L54.80,354.40 L54.85,356.39 L54.91,358.05 L54.96,359.46 L55.02,360.67 L55.08,361.73 L55.14,362.70 L55.22,363.64 L55.30,364.60 L55.39,365.55 L55.48,366.42 L55.57,367.22 L55.67,367.95 L55.79,368.62 L55.91,369.23 L56.05,369.79 L56.20,370.30 L56.37,370.75 L56.54,371.11 L56.73,371.40 L56.93,371.65 L57.15,371.87 L57.38,372.07 L57.63,372.27 L57.90,372.50 L58.19,372.73 L58.51,372.95 L58.85,373.15 L59.20,373.35 L59.57,373.55 L59.94,373.75 L60.32,373.97 L60.70,374.20 L61.09,374.45 L61.49,374.70 L61.90,374.96 L62.31,375.23 L62.73,375.51 L63.16,375.80 L63.58,376.09 L64.00,376.40 L64.41,376.72 L64.82,377.05 L65.22,377.40 L65.62,377.75 L66.04,378.11 L66.47,378.47 L66.92,378.84 L67.40,379.20 L67.91,379.57 L68.45,379.96 L69.01,380.35 L69.58,380.75 L70.16,381.14 L70.75,381.52 L71.33,381.87 L71.90,382.20 L72.46,382.50 L73.03,382.79 L73.59,383.06 L74.15,383.31 L74.71,383.55 L75.28,383.78 L75.84,384.00 L76.40,384.20 L76.97,384.39 L77.53,384.57 L78.11,384.73 L78.68,384.88 L79.24,385.02 L79.80,385.15 L80.36,385.28 L80.90,385.40 L81.40,385.51 L81.84,385.59 L82.25,385.67 L82.67,385.74 L83.12,385.81 L83.64,385.89 L84.26,385.98 L85.00,386.10 L85.86,386.24 L86.79,386.38 L87.80,386.54 L88.88,386.71 L90.04,386.89 L91.28,387.08 L92.60,387.29 L94.00,387.50 L95.51,387.73 L97.15,387.97 L98.88,388.23 L100.69,388.50 L102.53,388.77 L104.38,389.05 L106.22,389.33 L108.00,389.60 L109.75,389.87 L111.50,390.15 L113.25,390.43 L115.00,390.71 L116.75,390.99 L118.50,391.26 L120.25,391.53 L122.00,391.80 L123.75,392.06 L125.50,392.31 L127.25,392.56 L129.00,392.81 L130.75,393.06 L132.50,393.30 L134.25,393.55 L136.00,393.80 L137.80,394.05 L139.67,394.31 L141.57,394.57 L143.46,394.83 L145.28,395.09 L147.01,395.34 L148.60,395.57 L150.00,395.80 L151.14,396.00 L152.03,396.17 L152.76,396.32 L153.39,396.47 L154.02,396.63 L154.73,396.81 L155.60,397.03 L156.70,397.30 L158.04,397.62 L159.52,397.99 L161.13,398.39 L162.83,398.81 L164.60,399.25 L166.40,399.70 L168.21,400.16 L170.00,400.60 L171.82,401.05 L173.72,401.52 L175.68,402.01 L177.64,402.49 L179.59,402.98 L181.49,403.44 L183.30,403.89 L185.00,404.30 L186.60,404.68 L188.16,405.04 L189.66,405.38 L191.09,405.70 L192.45,406.01 L193.73,406.31 L194.92,406.61 L196.00,406.90 L196.96,407.18 L197.81,407.45 L198.55,407.70 L199.22,407.95 L199.83,408.20 L200.39,408.45 L200.95,408.72 L201.50,409.00 L202.01,409.28 L202.45,409.53 L202.83,409.77 L203.19,410.03 L203.56,410.32 L203.97,410.67 L204.44,411.09 L205.00,411.60 L205.67,412.22 L206.43,412.95 L207.24,413.76 L208.10,414.62 L208.97,415.50 L209.82,416.37 L210.64,417.22 L211.40,418.00 L212.10,418.73 L212.77,419.44 L213.41,420.14 L214.04,420.82 L214.65,421.49 L215.26,422.16 L215.88,422.83 L216.50,423.50 L217.14,424.19 L217.80,424.90 L218.47,425.61 L219.12,426.32 L219.77,427.00 L220.39,427.66 L220.97,428.26 L221.50,428.80 L221.98,429.28 L222.41,429.70 L222.81,430.08 L223.18,430.43 L223.53,430.74 L223.88,431.04 L224.23,431.32 L224.60,431.60 L224.98,431.88 L225.35,432.16 L225.71,432.43 L226.08,432.68 L226.45,432.89 L226.82,433.08 L227.21,433.21 L227.60,433.30 L227.99,433.32 L228.38,433.29 L228.78,433.21 L229.17,433.10 L229.59,432.96 L230.03,432.81 L230.50,432.65 L231.00,432.50 L231.55,432.35 L232.14,432.17 L232.76,431.98 L233.40,431.79 L234.05,431.59 L234.71,431.38 L235.36,431.19 L236.00,431.00 L236.62,430.82 L237.23,430.63 L237.84,430.45 L238.45,430.26 L239.07,430.08 L239.69,429.91 L240.34,429.75 L241.00,429.60 L241.69,429.45 L242.41,429.30 L243.14,429.16 L243.89,429.03 L244.63,428.91 L245.37,428.81 L246.10,428.74 L246.80,428.70 L247.46,428.70 L248.08,428.73 L248.67,428.79 L249.26,428.87 L249.87,428.97 L250.52,429.07 L251.22,429.19 L252.00,429.30 L252.82,429.41 L253.64,429.52 L254.49,429.63 L255.39,429.76 L256.36,429.90 L257.44,430.07 L258.65,430.26 L260.00,430.50 L261.54,430.78 L263.26,431.11 L265.11,431.47 L267.06,431.86 L269.07,432.25 L271.09,432.65 L273.08,433.04 L275.00,433.40 L276.83,433.75 L278.61,434.09 L280.36,434.44 L282.12,434.77 L283.94,435.11 L285.83,435.44 L287.84,435.77 L290.00,436.10 L292.36,436.43 L294.89,436.77 L297.56,437.11 L300.30,437.44 L303.07,437.77 L305.81,438.07 L308.47,438.35 L311.00,438.60 L313.41,438.81 L315.74,438.98 L318.01,439.13 L320.25,439.26 L322.47,439.39 L324.69,439.51 L326.93,439.64 L329.20,439.80 L331.51,439.97 L333.82,440.15 L336.15,440.34 L338.47,440.53 L340.81,440.72 L343.14,440.92 L345.47,441.11 L347.80,441.30" fill="none" stroke="#ff0000" stroke-width="1.7" stroke-linejoin="round" stroke-linecap="round"/>
<path d="M148.8,497.4 L183.7,508.8 L211.8,529.3" fill="none" stroke="#1a1a1a" stroke-width="1.1" stroke-linejoin="miter"/>
<path d="M130.2,471.7 L195.7,480.7 L225.1,504.2" fill="none" stroke="#1a1a1a" stroke-width="1.1" stroke-linejoin="miter"/>
<path d="M118.2,411.3 L184.3,429.8 L213.4,456.2" fill="none" stroke="#1a1a1a" stroke-width="1.1" stroke-linejoin="miter"/>
<path d="M155.6,396.9 L202.6,408.0 L224.6,431.4" fill="none" stroke="#1a1a1a" stroke-width="1.1" stroke-linejoin="miter"/>
</g>
<line x1="211.4" y1="409.2" x2="211.4" y2="426.6" stroke="#333333" stroke-width="1.3"/>
<line x1="200.0" y1="435.1" x2="200.0" y2="452.2" stroke="#333333" stroke-width="1.3"/>
<line x1="205.2" y1="480.3" x2="205.2" y2="498.3" stroke="#333333" stroke-width="1.3"/>
<line x1="194.7" y1="507.8" x2="194.7" y2="525.0" stroke="#333333" stroke-width="1.3"/>
<rect x="37.0" y="300.5" width="310.8" height="255.29999999999995" fill="none" stroke="#000" stroke-width="2.0"/>
<line x1="37.0" y1="555.80" x2="41.6" y2="555.80" stroke="#000" stroke-width="1.5"/>
<text stroke="#000" stroke-width="0.3" x="31.3" y="558.90" text-anchor="end" font-size="10.6" font-family="Liberation Serif" font-weight="bold">0.0</text>
<line x1="37.0" y1="523.94" x2="41.6" y2="523.94" stroke="#000" stroke-width="1.5"/>
<text stroke="#000" stroke-width="0.3" x="31.3" y="527.04" text-anchor="end" font-size="10.6" font-family="Liberation Serif" font-weight="bold">0.1</text>
<line x1="37.0" y1="492.08" x2="41.6" y2="492.08" stroke="#000" stroke-width="1.5"/>
<text stroke="#000" stroke-width="0.3" x="31.3" y="495.18" text-anchor="end" font-size="10.6" font-family="Liberation Serif" font-weight="bold">0.2</text>
<line x1="37.0" y1="460.22" x2="41.6" y2="460.22" stroke="#000" stroke-width="1.5"/>
<text stroke="#000" stroke-width="0.3" x="31.3" y="463.32" text-anchor="end" font-size="10.6" font-family="Liberation Serif" font-weight="bold">0.3</text>
<line x1="37.0" y1="428.36" x2="41.6" y2="428.36" stroke="#000" stroke-width="1.5"/>
<text stroke="#000" stroke-width="0.3" x="31.3" y="431.46" text-anchor="end" font-size="10.6" font-family="Liberation Serif" font-weight="bold">0.4</text>
<line x1="37.0" y1="396.50" x2="41.6" y2="396.50" stroke="#000" stroke-width="1.5"/>
<text stroke="#000" stroke-width="0.3" x="31.3" y="399.60" text-anchor="end" font-size="10.6" font-family="Liberation Serif" font-weight="bold">0.5</text>
<line x1="37.0" y1="364.64" x2="41.6" y2="364.64" stroke="#000" stroke-width="1.5"/>
<text stroke="#000" stroke-width="0.3" x="31.3" y="367.74" text-anchor="end" font-size="10.6" font-family="Liberation Serif" font-weight="bold">0.6</text>
<line x1="37.0" y1="332.78" x2="41.6" y2="332.78" stroke="#000" stroke-width="1.5"/>
<text stroke="#000" stroke-width="0.3" x="31.3" y="335.88" text-anchor="end" font-size="10.6" font-family="Liberation Serif" font-weight="bold">0.7</text>
<text stroke="#000" stroke-width="0.3" x="31.3" y="304.02" text-anchor="end" font-size="10.6" font-family="Liberation Serif" font-weight="bold">0.8</text>
<line x1="53.35" y1="555.8" x2="53.35" y2="551.8" stroke="#000" stroke-width="1.5"/>
<line x1="42.45" y1="555.8" x2="42.45" y2="553.5999999999999" stroke="#000" stroke-width="1.5"/>
<line x1="86.06" y1="555.8" x2="86.06" y2="551.8" stroke="#000" stroke-width="1.5"/>
<line x1="75.16" y1="555.8" x2="75.16" y2="553.5999999999999" stroke="#000" stroke-width="1.5"/>
<line x1="64.25" y1="555.8" x2="64.25" y2="553.5999999999999" stroke="#000" stroke-width="1.5"/>
<line x1="118.77" y1="555.8" x2="118.77" y2="551.8" stroke="#000" stroke-width="1.5"/>
<line x1="107.86" y1="555.8" x2="107.86" y2="553.5999999999999" stroke="#000" stroke-width="1.5"/>
<line x1="96.96" y1="555.8" x2="96.96" y2="553.5999999999999" stroke="#000" stroke-width="1.5"/>
<line x1="151.47" y1="555.8" x2="151.47" y2="551.8" stroke="#000" stroke-width="1.5"/>
<line x1="140.57" y1="555.8" x2="140.57" y2="553.5999999999999" stroke="#000" stroke-width="1.5"/>
<line x1="129.67" y1="555.8" x2="129.67" y2="553.5999999999999" stroke="#000" stroke-width="1.5"/>
<line x1="184.18" y1="555.8" x2="184.18" y2="551.8" stroke="#000" stroke-width="1.5"/>
<line x1="173.28" y1="555.8" x2="173.28" y2="553.5999999999999" stroke="#000" stroke-width="1.5"/>
<line x1="162.37" y1="555.8" x2="162.37" y2="553.5999999999999" stroke="#000" stroke-width="1.5"/>
<line x1="216.88" y1="555.8" x2="216.88" y2="551.8" stroke="#000" stroke-width="1.5"/>
<line x1="205.98" y1="555.8" x2="205.98" y2="553.5999999999999" stroke="#000" stroke-width="1.5"/>
<line x1="195.08" y1="555.8" x2="195.08" y2="553.5999999999999" stroke="#000" stroke-width="1.5"/>
<line x1="249.59" y1="555.8" x2="249.59" y2="551.8" stroke="#000" stroke-width="1.5"/>
<line x1="238.69" y1="555.8" x2="238.69" y2="553.5999999999999" stroke="#000" stroke-width="1.5"/>
<line x1="227.78" y1="555.8" x2="227.78" y2="553.5999999999999" stroke="#000" stroke-width="1.5"/>
<line x1="282.29" y1="555.8" x2="282.29" y2="551.8" stroke="#000" stroke-width="1.5"/>
<line x1="271.39" y1="555.8" x2="271.39" y2="553.5999999999999" stroke="#000" stroke-width="1.5"/>
<line x1="260.49" y1="555.8" x2="260.49" y2="553.5999999999999" stroke="#000" stroke-width="1.5"/>
<line x1="315.00" y1="555.8" x2="315.00" y2="551.8" stroke="#000" stroke-width="1.5"/>
<line x1="304.10" y1="555.8" x2="304.10" y2="553.5999999999999" stroke="#000" stroke-width="1.5"/>
<line x1="293.20" y1="555.8" x2="293.20" y2="553.5999999999999" stroke="#000" stroke-width="1.5"/>
<line x1="336.81" y1="555.8" x2="336.81" y2="553.5999999999999" stroke="#000" stroke-width="1.5"/>
<line x1="325.90" y1="555.8" x2="325.90" y2="553.5999999999999" stroke="#000" stroke-width="1.5"/>
<text stroke="#000" stroke-width="0.3" x="53.35" y="570.2" text-anchor="middle" font-size="10.6" font-family="Liberation Serif" font-weight="bold">-20</text>
<text stroke="#000" stroke-width="0.3" x="86.06" y="570.2" text-anchor="middle" font-size="10.6" font-family="Liberation Serif" font-weight="bold">0</text>
<text stroke="#000" stroke-width="0.3" x="118.77" y="570.2" text-anchor="middle" font-size="10.6" font-family="Liberation Serif" font-weight="bold">20</text>
<text stroke="#000" stroke-width="0.3" x="151.47" y="570.2" text-anchor="middle" font-size="10.6" font-family="Liberation Serif" font-weight="bold">40</text>
<text stroke="#000" stroke-width="0.3" x="184.18" y="570.2" text-anchor="middle" font-size="10.6" font-family="Liberation Serif" font-weight="bold">60</text>
<text stroke="#000" stroke-width="0.3" x="216.88" y="570.2" text-anchor="middle" font-size="10.6" font-family="Liberation Serif" font-weight="bold">80</text>
<text stroke="#000" stroke-width="0.3" x="249.59" y="570.2" text-anchor="middle" font-size="10.6" font-family="Liberation Serif" font-weight="bold">100</text>
<text stroke="#000" stroke-width="0.3" x="282.29" y="570.2" text-anchor="middle" font-size="10.6" font-family="Liberation Serif" font-weight="bold">120</text>
<text stroke="#000" stroke-width="0.3" x="315.00" y="570.2" text-anchor="middle" font-size="10.6" font-family="Liberation Serif" font-weight="bold">140</text>
<text stroke="#000" stroke-width="0.3" x="347.71" y="570.2" text-anchor="middle" font-size="10.6" font-family="Liberation Serif" font-weight="bold">160</text>
<text stroke="#000" stroke-width="0.3" x="141" y="583.1" font-size="14" font-family="Liberation Serif" font-weight="bold">Temperature [°C]</text>
<text stroke="#000" stroke-width="0.3" transform="translate(12.6,468) rotate(-90)" font-size="14" font-family="Liberation Serif" font-weight="bold">Heat flow [w/g]</text>
<text stroke="#000" stroke-width="0.3" x="1.2" y="323.2" font-size="25" font-family="Liberation Serif" font-weight="bold">b</text>
<text stroke="#000" stroke-width="0.3" transform="translate(77.9,362.3) rotate(-90)" font-size="10.7" font-family="Liberation Serif" font-weight="bold">Exothermic</text>
<text stroke="#000" stroke-width="0.3" transform="translate(91.9,362.3) rotate(-90)" font-size="10.7" font-family="Liberation Serif" font-weight="bold">direction</text>
<line x1="96.2" y1="355.3" x2="96.2" y2="321" stroke="#000" stroke-width="1.3"/>
<path d="M96.2,317.5 L98.6,323.2 L96.2,322 L93.8,323.2 Z" fill="#000"/>
<rect x="257.1" y="306.9" width="82.6" height="61.2" fill="#fff" stroke="#262626" stroke-width="1.2"/>
<line x1="258.2" y1="315.7" x2="279" y2="315.7" stroke="#7f7f7f" stroke-width="1.5"/>
<text stroke="#000" stroke-width="0.3" x="282.4" y="319.30" font-size="11.7" font-family="Liberation Serif" font-weight="bold">RTC</text>
<line x1="258.2" y1="330.7" x2="279" y2="330.7" stroke="#1ea4f7" stroke-width="1.5"/>
<text stroke="#000" stroke-width="0.3" x="282.4" y="334.30" font-size="11.7" font-family="Liberation Serif" font-weight="bold">MTC</text>
<line x1="258.2" y1="346.0" x2="279" y2="346.0" stroke="#f2862e" stroke-width="1.5"/>
<text stroke="#000" stroke-width="0.3" x="282.4" y="349.60" font-size="11.7" font-family="Liberation Serif" font-weight="bold">HTC</text>
<line x1="258.2" y1="360.9" x2="279" y2="360.9" stroke="#ff0000" stroke-width="1.5"/>
<text stroke="#000" stroke-width="0.3" x="282.4" y="364.50" font-size="11.7" font-family="Liberation Serif" font-weight="bold">USP+MTC</text>
<text stroke="#ff0000" stroke-width="0.3" x="215.2" y="415.6" font-size="10.5" fill="#ff0000" font-family="Liberation Serif" font-weight="bold">76.74<tspan font-size="7" dy="-4.4">o</tspan><tspan dy="4.4">C</tspan></text>
<text stroke="#f2862e" stroke-width="0.3" x="205.4" y="445.7" font-size="10.5" fill="#f2862e" font-family="Liberation Serif" font-weight="bold">69.58<tspan font-size="7" dy="-4.4">o</tspan><tspan dy="4.4">C</tspan></text>
<text stroke="#1ea4f7" stroke-width="0.3" x="208.4" y="486.6" font-size="10.5" fill="#1ea4f7" font-family="Liberation Serif" font-weight="bold">72.93<tspan font-size="7" dy="-4.4">o</tspan><tspan dy="4.4">C</tspan></text>
<text stroke="#7f7f7f" stroke-width="0.3" x="200.1" y="518.4" font-size="10.5" fill="#7f7f7f" font-family="Liberation Serif" font-weight="bold">66.50<tspan font-size="7" dy="-4.4">o</tspan><tspan dy="4.4">C</tspan></text>
</svg>
</body></html>
